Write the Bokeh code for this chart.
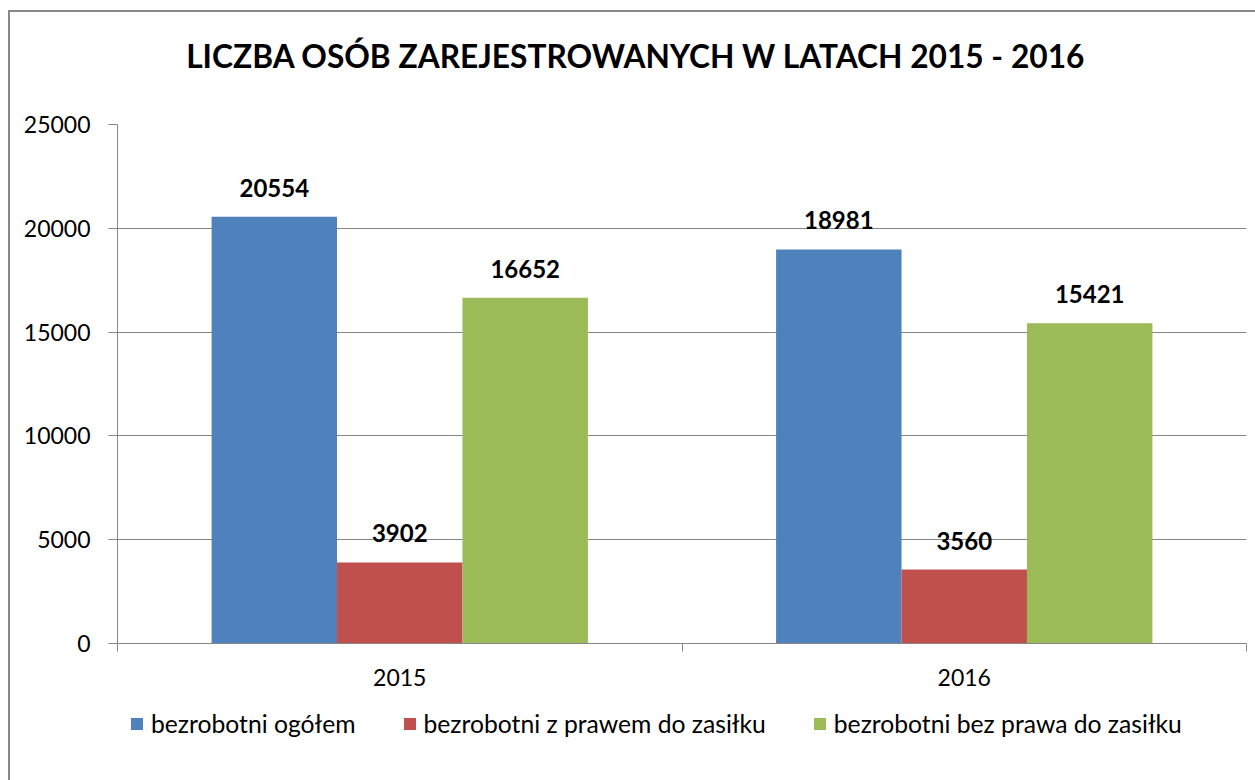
from bokeh.plotting import figure
from bokeh.models import FixedTicker, Legend, LegendItem, Range1d
from bokeh.layouts import column
from bokeh.embed import file_html
from bokeh.resources import INLINE
from bokeh.core.properties import value

# ---- data ----
years = ["2015", "2016"]
series_names = ["bezrobotni ogółem", "bezrobotni z prawem do zasiłku", "bezrobotni bez prawa do zasiłku"]
ogolem = [20554, 18981]
z_prawem = [3902, 3560]
bez_prawa = [16652, 15421]
colors = ["#4F81BD", "#C0504D", "#9BBB59"]
y_ticks = [0, 5000, 10000, 15000, 20000, 25000]
title_text = "LICZBA OSÓB ZAREJESTROWANYCH W LATACH 2015 - 2016"

FONT = "Lato"
GRAY = "#868686"
W, H0, H1, H2 = 1245, 96, 595, 77


def bare(height):
    f = figure(width=W, height=height, output_backend="svg", toolbar_location=None,
               x_range=Range1d(0, 1), y_range=Range1d(0, 1),
               x_axis_type=None, y_axis_type=None,
               min_border_left=107, min_border_right=9, min_border_top=0, min_border_bottom=0)
    f.outline_line_color = None
    f.xgrid.grid_line_color = None
    f.ygrid.grid_line_color = None
    return f


# title strip
p0 = bare(H0)
p0.text(x=[0.5], y=[0.552], text=[title_text], text_align="center", text_baseline="middle",
        x_offset=-46, text_font=value(FONT), text_font_size="31.7px",
        text_font_style="bold", text_color="black")

# main chart
p = figure(width=W, height=H1, output_backend="svg", toolbar_location=None,
           x_range=Range1d(0, len(years)), y_range=Range1d(0, y_ticks[-1]),
           min_border_left=107, min_border_right=9, min_border_top=16,
           min_border_bottom=60)
p.outline_line_color = None
p.background_fill_color = "white"
p.border_fill_color = "white"

p.xgrid.grid_line_color = None
p.ygrid.grid_line_color = GRAY
p.ygrid.grid_line_width = 1

all_series = [ogolem, z_prawem, bez_prawa]
n = len(all_series)
bw = 1 / 4.5
for j, vals in enumerate(all_series):
    xs = [i + 0.5 + (j - (n - 1) / 2) * bw for i in range(len(years))]
    p.vbar(x=xs, top=vals, width=bw, fill_color=colors[j], line_color=None)
    p.text(x=xs, y=vals, text=[str(v) for v in vals], text_align="center",
           text_baseline="alphabetic", y_offset=-29, text_font=value(FONT),
           text_font_size="24px", text_font_style="bold", text_color="black")

xa = p.xaxis[0]
xa.ticker = FixedTicker(ticks=[i + 0.5 for i in range(len(years))],
                        minor_ticks=list(range(len(years) + 1)))
xa.major_label_overrides = {i + 0.5: y for i, y in enumerate(years)}
xa.major_tick_out = 0
xa.major_tick_in = 0
xa.minor_tick_out = 8
xa.minor_tick_in = 0
xa.minor_tick_line_color = GRAY
xa.axis_line_color = GRAY
xa.major_label_text_font = FONT
xa.major_label_text_font_size = "23px"
xa.major_label_text_color = "black"
xa.major_label_standoff = 17

ya = p.yaxis[0]
ya.ticker = FixedTicker(ticks=y_ticks)
ya.major_tick_out = 9
ya.major_tick_in = 0
ya.minor_tick_line_color = None
ya.major_tick_line_color = GRAY
ya.axis_line_color = GRAY
ya.major_label_text_font = FONT
ya.major_label_text_font_size = "23px"
ya.major_label_text_color = "black"
ya.major_label_standoff = 18

# legend strip
p2 = bare(H2)
proxies = [p2.vbar(x=[0], top=[0], width=0.01, fill_color=colors[j], line_color=None)
           for j in range(n)]
legend = Legend(items=[LegendItem(label=series_names[j], renderers=[proxies[j]]) for j in range(n)],
                orientation="horizontal", location=(12, 42), padding=0, margin=0,
                spacing=46, label_standoff=7, glyph_width=15, glyph_height=15,
                label_text_font=FONT, label_text_font_size="24.7px", label_text_color="black",
                border_line_color=None, background_fill_alpha=0)
p2.add_layout(legend)

layout = column(p0, p, p2, spacing=0,
                styles={"border-left": "2px solid #888888", "border-top": "2px solid #888888",
                        "margin-left": "8px", "margin-top": "10px"})

open("out.html", "w").write(file_html(layout, INLINE))
